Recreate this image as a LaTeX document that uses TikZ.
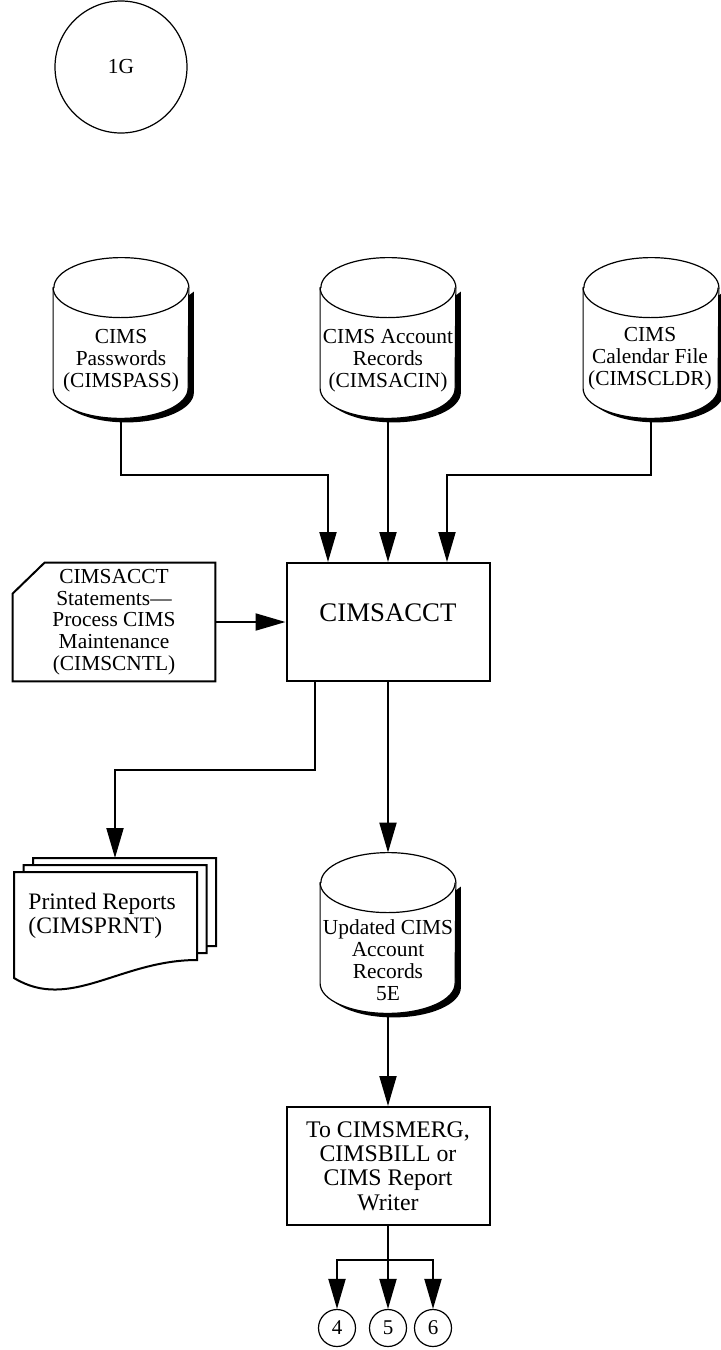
\documentclass[tikz,border=0pt]{standalone}
\usepackage{fontspec}
\setmainfont{Liberation Serif}
\usetikzlibrary{arrows.meta}

\tikzset{
  flow/.style={line width=1pt, -{Triangle[length=15pt,width=8.5pt]}},
  procbox/.style={draw, line width=1pt, minimum width=101.5pt, minimum height=59pt, inner sep=0pt},
  disk/.style={minimum width=67.5pt, minimum height=80pt, inner sep=0pt},
  disktext/.style={align=center, inner sep=0pt, font=\fontsize{10.7}{11}\selectfont},
  diskline/.style={line width=.6pt, fill=white},
  pageline/.style={draw, fill=white, line width=1pt},
  conn/.style={circle, draw, line width=.6pt, minimum size=18.5pt, inner sep=0pt, font=\fontsize{10.5}{11}\selectfont},
}

% shadowed data store drawn round an empty node
\newcommand{\cimsdisk}[1]{%
  \fill ([shift={(2.5pt,-17pt)}]#1.north east) -- ([shift={(2.5pt,13pt)}]#1.south east)
    arc[start angle=0, end angle=-180, x radius=33.75pt, y radius=15pt] -- cycle;
  \draw[diskline] ([yshift=-15pt]#1.north west) -- ([yshift=15pt]#1.south west)
    arc[start angle=180, end angle=360, x radius=33.75pt, y radius=15pt]
    -- ([yshift=-15pt]#1.north east)
    arc[start angle=0, end angle=180, x radius=33.75pt, y radius=15pt] -- cycle;
  \draw[line width=.6pt] ([yshift=-15pt]#1.north west)
    arc[start angle=180, end angle=360, x radius=33.75pt, y radius=15pt];
}

\begin{document}
\begin{tikzpicture}[x=0.5pt, y=0.5pt]
  \useasboundingbox (0,0) rectangle (721,-1350);
  \node[circle, draw, line width=.6pt, minimum size=66pt, font=\fontsize{10.7}{11}\selectfont] (g1) at (121,-67) {1G};
  %
  \node[disk] (pass) at (121,-338) {};
  \node[disk] (acin) at (388,-338) {};
  \node[disk] (cldr) at (651,-338) {};
  \cimsdisk{pass}
  \cimsdisk{acin}
  \cimsdisk{cldr}
  \node[disktext] (passtxt) at (121,-361) {CIMS\\Passwords\\(CIMSPASS)};
  \node[disktext] (acintxt) at (388,-361) {CIMS Account\\Records\\(CIMSACIN)};
  \node[disktext] (cldrtxt) at (650,-359) {CIMS\\Calendar File\\(CIMSCLDR)};
  %
  \node[procbox, text height=9pt, text depth=10pt, font=\fontsize{13.4}{15}\selectfont] (acct) at (388,-622) {CIMSACCT};
  \node[minimum width=101pt, minimum height=59pt, inner sep=0pt, align=center,
    font=\fontsize{10.7}{10.9}\selectfont] (ctl) at (114,-622)
    {CIMSACCT\\Statements---\\Process CIMS\\Maintenance\\(CIMSCNTL)};
  \draw[line width=1pt] ([yshift=-15.5pt]ctl.north west) -- ([xshift=16pt]ctl.north west)
    -- (ctl.north east) -- (ctl.south east) -- (ctl.south west) -- cycle;
  \draw[flow] (pass.south) -- (121,-475) -| ([xshift=-30pt]acct.north);
  \draw[flow] (acin.south) -- (acct.north);
  \draw[flow] (cldr.south) -- (651,-475) -| ([xshift=29.5pt]acct.north);
  \draw[flow] (ctl.east) -- (acct.west);
  %
  \foreach \s in {2,1,0}
    \draw[pageline, shift={(14+9.5*\s,-872+7*\s)}] (0,0) -- (183,0) -- (183,-88)
      .. controls (106,-88) and (56,-140) .. (0,-106) -- cycle;
  \node[anchor=west, align=left, inner sep=0pt, font=\fontsize{11.8}{11.8}\selectfont] (prnt) at (28,-916) {Printed Reports\\(CIMSPRNT)};
  \coordinate (prnttop) at (115,-858);
  \draw[flow] ([xshift=-36.5pt]acct.south) -- (315,-770) -| (prnttop);
  %
  \node[disk] (upd) at (388,-933) {};
  \cimsdisk{upd}
  \node[disktext] (updtxt) at (388,-960) {Updated CIMS\\Account\\Records\\5E};
  \draw[flow] (acct.south) -- (upd.north);
  %
  \node[procbox, align=center, font=\fontsize{11.9}{12.2}\selectfont] (cmerg) at (388,-1166)
    {To CIMSMERG,\\CIMSBILL or\\CIMS Report\\Writer};
  \draw[flow] (upd.south) -- (cmerg.north);
  %
  \node[conn] (c4) at (337,-1328) {4};
  \node[conn] (c5) at (388,-1328) {5};
  \node[conn] (c6) at (433,-1328) {6};
  \coordinate (split) at (388,-1260);
  \draw[flow] (cmerg.south) -- (c5.north);
  \draw[flow] (split) -| (c4.north);
  \draw[flow] (split) -| (c6.north);
\end{tikzpicture}
\end{document}
